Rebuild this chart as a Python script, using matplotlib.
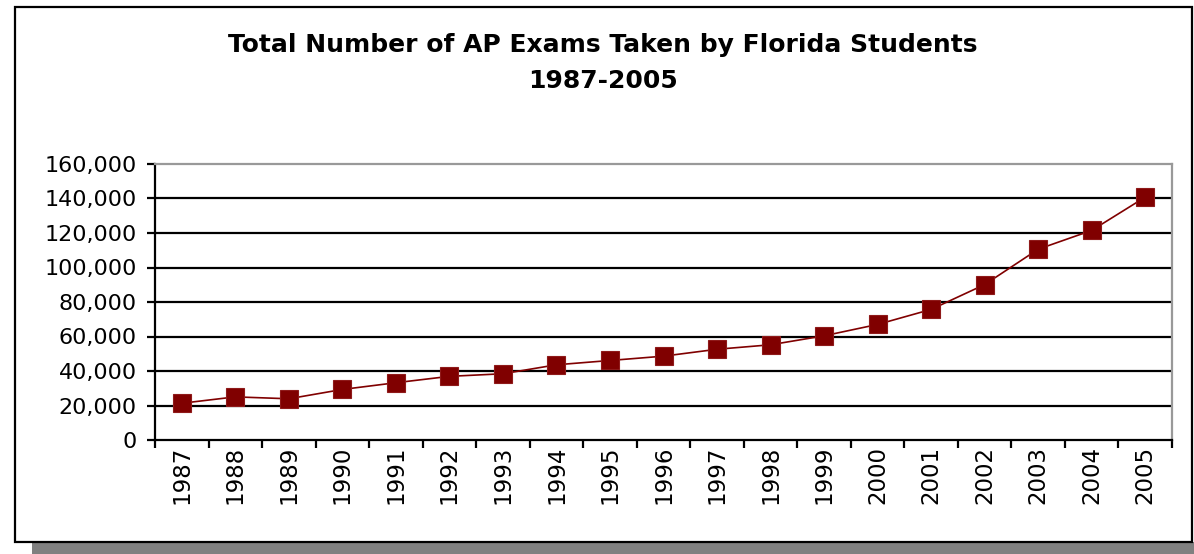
import matplotlib
matplotlib.use("Agg")
import matplotlib.pyplot as plt
from matplotlib.patches import Rectangle
from matplotlib.ticker import FuncFormatter

plt.rcParams['font.family'] = ['DejaVu Sans']

years = [str(y) for y in range(1987, 2006)]
exams = [21300, 25000, 23900, 29300, 33200, 36900, 38400, 43600, 46100, 48600,
         52600, 55200, 60400, 67000, 75700, 90100, 110600, 121500, 140800]
yticks = [0, 20000, 40000, 60000, 80000, 100000, 120000, 140000, 160000]

W, H = 1194, 554
fig = plt.figure(figsize=(W / 100, H / 100), dpi=100)

# outer chart frame with drop shadow
fig.patches.append(Rectangle((32 / W, 0), 1 - 32 / W, 12 / H, transform=fig.transFigure,
                             facecolor='#808080', edgecolor='none', zorder=-2))
fig.patches.append(Rectangle((15 / W, 1 - 542 / H), (1192 - 15) / W, (542 - 7) / H,
                             transform=fig.transFigure, facecolor='white',
                             edgecolor='black', linewidth=1.6, zorder=-1))

ax = fig.add_axes([155 / W, 1 - 440 / H, (1172 - 155) / W, (440 - 164) / H])
ax.set_zorder(2)
ax.patch.set_alpha(0)
x = list(range(len(years)))
ax.plot(x, exams, color='#800000', linewidth=1.2, marker='s', markersize=12.5,
        markerfacecolor='#800000', markeredgecolor='#8f1a1a', markeredgewidth=0.8,
        zorder=3, clip_on=False)

ax.set_xlim(-0.5, len(years) - 0.5)
ax.set_ylim(0, 160000)
ax.set_yticks(yticks)
ax.yaxis.set_major_formatter(FuncFormatter(lambda v, p: f'{int(v):,}'))
ax.set_xticks(x)
ax.set_xticklabels(years, rotation=90)
ax.set_xticks([i - 0.5 for i in range(len(years) + 1)], minor=True)
ax.tick_params(axis='x', which='major', length=0, pad=4, labelsize=16.5)
ax.tick_params(axis='x', which='minor', length=6, width=1.6, color='black')
ax.tick_params(axis='y', length=6, width=1.6, pad=7, labelsize=16)

for v in yticks[1:-1]:
    ax.axhline(v, color='black', linewidth=1.6, zorder=1)

for s in ['left', 'bottom']:
    ax.spines[s].set_color('black')
    ax.spines[s].set_linewidth(1.6)
for s in ['top', 'right']:
    ax.spines[s].set_color('#999999')
    ax.spines[s].set_linewidth(1.6)

fig.text(603 / W, 1 - 63 / H, 'Total Number of AP Exams Taken by Florida Students\n1987-2005',
         ha='center', va='center', fontsize=18, fontweight='bold', linespacing=1.6)

fig.savefig('out.png', dpi=100)
